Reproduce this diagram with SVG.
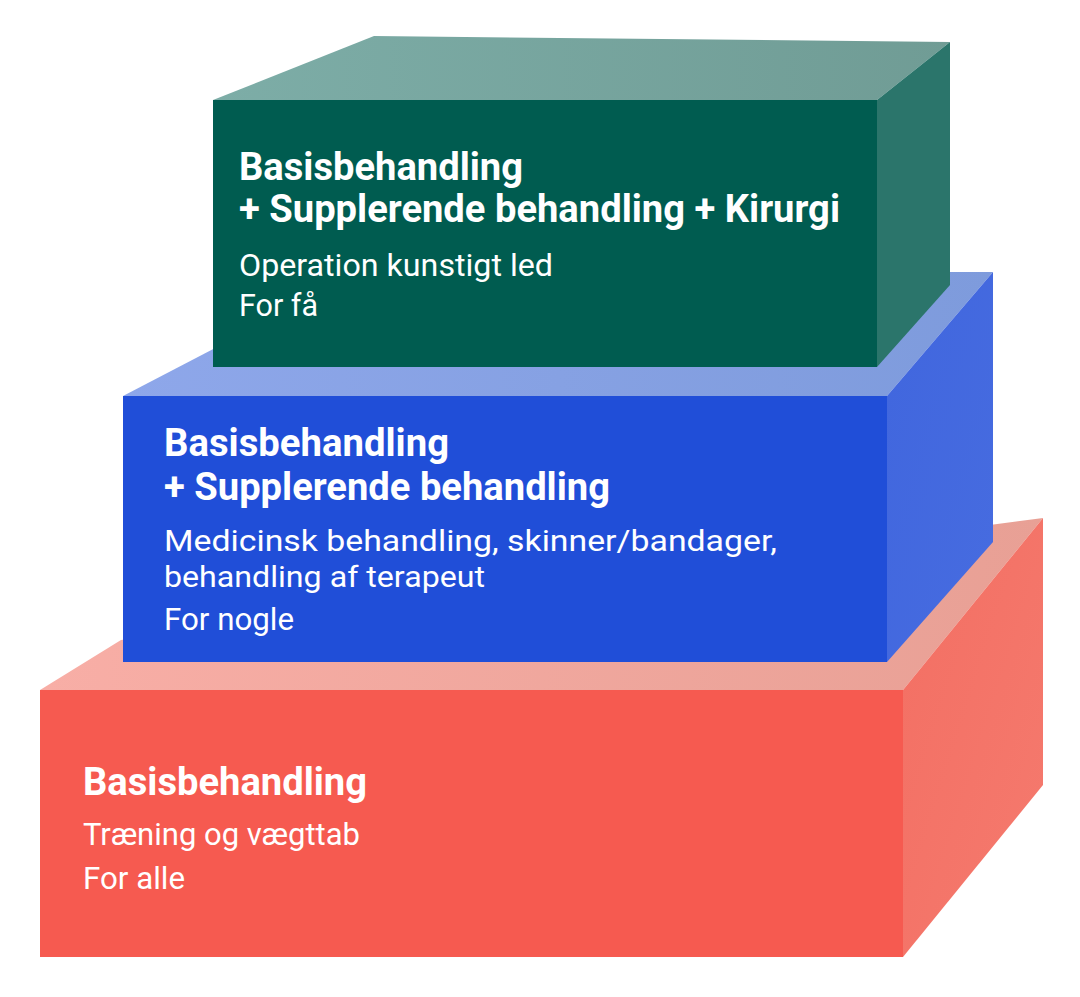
<svg xmlns="http://www.w3.org/2000/svg" width="1080" height="997" viewBox="0 0 1080 997">
<defs>
<linearGradient id="gTop" x1="0" y1="0" x2="1" y2="0"><stop offset="0" stop-color="#7DADA7"/><stop offset="1" stop-color="#709C95"/></linearGradient>
<linearGradient id="bTop" x1="0" y1="0" x2="1" y2="0"><stop offset="0" stop-color="#8EA7EA"/><stop offset="1" stop-color="#7E9BDC"/></linearGradient>
<linearGradient id="rTop" x1="0" y1="0" x2="1" y2="0"><stop offset="0" stop-color="#F8AEA6"/><stop offset="1" stop-color="#E8A095"/></linearGradient>
<linearGradient id="rSide" x1="0" y1="0" x2="1" y2="1"><stop offset="0" stop-color="#F36F63"/><stop offset="1" stop-color="#F57A6E"/></linearGradient>
<linearGradient id="bSide" x1="0" y1="0" x2="1" y2="1"><stop offset="0" stop-color="#4066DE"/><stop offset="1" stop-color="#476CE0"/></linearGradient>
</defs>
<style>
text{font-family:"Liberation Sans Narrow","Roboto","Liberation Sans",sans-serif;fill:#ffffff}
.h{font-weight:bold;font-size:38px}
.t{font-weight:normal;font-size:32px}
.s{font-weight:normal;font-size:29px}
</style>
<rect width="1080" height="997" fill="#ffffff"/>
<g id="red">
<polygon points="40,690 121,640 1043,518 903,690" fill="url(#rTop)"/>
<polygon points="903,690 1043,518 1043,785 903,957" fill="url(#rSide)"/>
<rect x="40" y="690" width="863" height="267" fill="#F65A50"/>
<text class="h" x="83" y="795" textLength="284" lengthAdjust="spacingAndGlyphs">Basisbehandling</text>
<text class="t" x="83" y="845" textLength="277" lengthAdjust="spacingAndGlyphs">Træning og vægttab</text>
<text class="t" x="83" y="889" textLength="102" lengthAdjust="spacingAndGlyphs">For alle</text>
</g>
<g id="blue">
<polygon points="123,396 361,272 993,272 887,396" fill="url(#bTop)"/>
<polygon points="887,396 993,272 993,542 887,662" fill="url(#bSide)"/>
<rect x="123" y="396" width="764" height="266" fill="#204ED8"/>
<text class="h" x="164" y="456" textLength="285" lengthAdjust="spacingAndGlyphs">Basisbehandling</text>
<text class="h" x="164" y="500" textLength="446" lengthAdjust="spacingAndGlyphs">+ Supplerende behandling</text>
<text class="s" x="164" y="551" textLength="613" lengthAdjust="spacingAndGlyphs">Medicinsk behandling, skinner/bandager,</text>
<text class="s" x="164" y="587" textLength="321" lengthAdjust="spacingAndGlyphs">behandling af terapeut</text>
<text class="t" x="164" y="630" textLength="130" lengthAdjust="spacingAndGlyphs">For nogle</text>
</g>
<g id="green">
<polygon points="213,100 374,36 950,42 877,100" fill="url(#gTop)"/>
<polygon points="877,100 950,42 950,285 877,367" fill="#2B756B"/>
<rect x="213" y="100" width="664" height="267" fill="#005C50"/>
<text class="h" x="239" y="180" textLength="284" lengthAdjust="spacingAndGlyphs">Basisbehandling</text>
<text class="h" x="239" y="222" textLength="601" lengthAdjust="spacingAndGlyphs">+ Supplerende behandling + Kirurgi</text>
<text class="t" x="239" y="276" textLength="314" lengthAdjust="spacingAndGlyphs">Operation kunstigt led</text>
<text class="t" x="239" y="316" textLength="79" lengthAdjust="spacingAndGlyphs">For få</text>
</g>
<g id="connectors"/>
</svg>
